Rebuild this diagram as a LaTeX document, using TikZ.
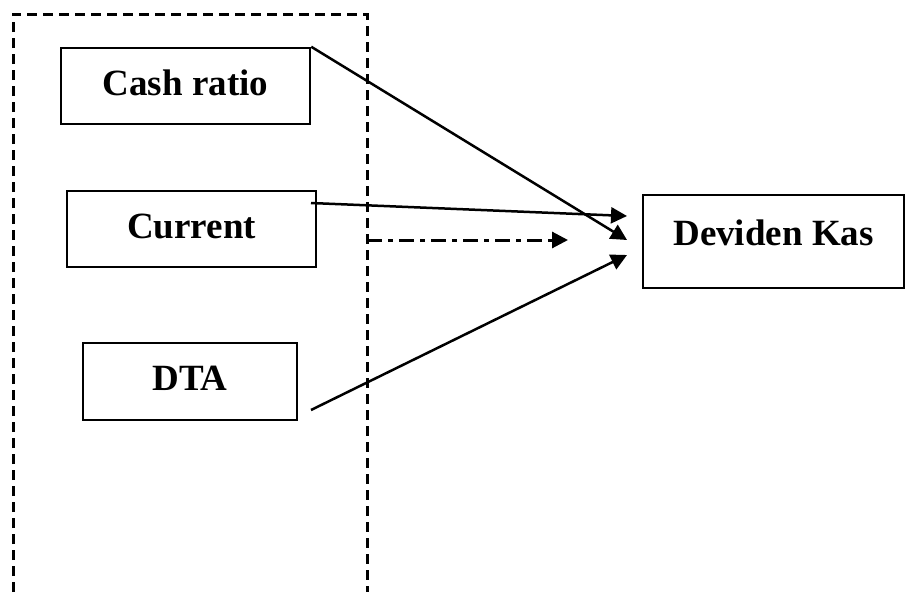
\documentclass[tikz,border=0pt]{standalone}
\usepackage{fontspec}
\setmainfont{Liberation Serif}
\usetikzlibrary{arrows.meta}
\begin{document}
\begin{tikzpicture}[x=1pt,y=-1pt,
  box/.style={draw, line width=2.5pt, inner sep=0pt, text depth=6pt,
    font=\fontsize{37}{40}\selectfont\bfseries},
  link/.style={line width=2.5pt, -{Triangle[length=16pt,width=16pt]}},
  frame/.style={line width=3pt, dash pattern=on 10pt off 6pt},
  hint/.style={line width=3pt, dash pattern=on 15pt off 6pt on 5pt off 6pt,
    -{Triangle[length=16pt,width=16pt]}},
]
\useasboundingbox (0,0) rectangle (909,592);

% dashed frame around the independent variables
\draw[frame] (13,592) -- (13,14) -- (367,14) -- (367,592);

% variables
\node[box, minimum width=249pt, minimum height=76pt] (cash) at (185.5,86) {Cash ratio};
\node[box, minimum width=249pt, minimum height=76pt] (cur) at (191.5,229) {Current};
\node[box, minimum width=214pt, minimum height=77pt] (dta) at (190,381.5) {DTA};
\node[box, minimum width=261pt, minimum height=93pt, text depth=18pt] (dk) at (773.5,241.5) {Deviden Kas};

% connector end points
\coordinate (curout) at (311,203);
\coordinate (dtaout) at (311,410);
\coordinate (frameout) at (367,240);
\coordinate (tcur) at (627,216);
\coordinate (tcash) at (627,240);
\coordinate (tdta) at (627,255);
\coordinate (tframe) at (568,240);

% links to the dependent variable
\draw[link] (cash.north east) -- (tcash);
\draw[link] (curout) -- (tcur);
\draw[link] (dtaout) -- (tdta);
\draw[hint] (frameout) -- (tframe);
\end{tikzpicture}
\end{document}
